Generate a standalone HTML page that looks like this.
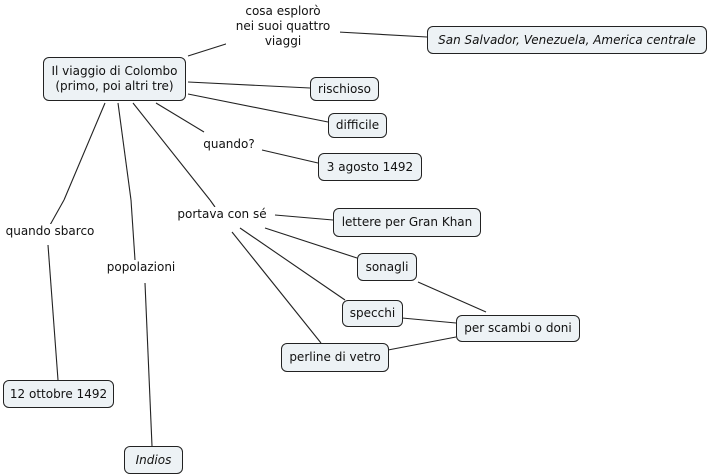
<!DOCTYPE html>
<html><head><meta charset="utf-8"><style>
body{margin:0;width:709px;height:475px;background:#fff;position:relative;font-family:"DejaVu Sans","Liberation Sans",sans-serif;font-size:12px;color:#111;overflow:hidden}
.b{position:absolute;background:#edf2f5;border:1px solid #222;border-radius:6px;box-sizing:border-box;display:flex;align-items:center;justify-content:center;text-align:center;line-height:15px;white-space:nowrap}
.l{position:absolute;text-align:center;line-height:15px;white-space:nowrap;background:#fff}
i{font-style:italic}
svg{position:absolute;left:0;top:0}
</style></head><body>
<svg width="709" height="475" stroke="#222" stroke-width="1.1">
<line x1="188" y1="56" x2="229" y2="43"/>
<line x1="338" y1="32" x2="427" y2="37"/>
<line x1="188" y1="82" x2="310" y2="88"/>
<line x1="188" y1="94" x2="328" y2="122"/>
<line x1="156" y1="103" x2="204" y2="132"/>
<line x1="262" y1="150" x2="318" y2="163"/>
<line x1="133" y1="103" x2="210" y2="200"/>
<line x1="118" y1="103" x2="131" y2="200"/>
<line x1="105" y1="103" x2="64" y2="200"/>
<line x1="64" y1="200" x2="50" y2="225"/>
<line x1="131" y1="200" x2="135" y2="260"/>
<line x1="210" y1="200" x2="215" y2="207"/>
<line x1="48" y1="245" x2="58" y2="380"/>
<line x1="145" y1="283" x2="152" y2="446"/>
<line x1="275" y1="215" x2="333" y2="220"/>
<line x1="265" y1="228" x2="357" y2="258"/>
<line x1="240" y1="228" x2="345" y2="300"/>
<line x1="232" y1="232" x2="321" y2="343"/>
<line x1="418" y1="282" x2="486" y2="312"/>
<line x1="402" y1="318" x2="456" y2="323"/>
<line x1="388" y1="350" x2="456" y2="337"/>
</svg>
<div class="l" style="left:226px;top:4px;width:114px">cosa esplorò<br>nei suoi quattro<br>viaggi</div>
<div class="l" style="left:200px;top:137px;width:58px">quando?</div>
<div class="l" style="left:170px;top:207px;width:104px">portava con sé</div>
<div class="l" style="left:2px;top:224px;width:96px">quando sbarco</div>
<div class="l" style="left:102px;top:260px;width:78px">popolazioni</div>
<div class="b" style="left:43px;top:57px;width:143px;height:44px">Il viaggio di Colombo<br>(primo, poi altri tre)</div>
<div class="b" style="left:310px;top:77px;width:69px;height:24px">rischioso</div>
<div class="b" style="left:328px;top:113px;width:59px;height:25px">difficile</div>
<div class="b" style="left:318px;top:153px;width:104px;height:28px">3 agosto 1492</div>
<div class="b" style="left:427px;top:26px;width:280px;height:28px"><i>San Salvador, Venezuela, America centrale</i></div>
<div class="b" style="left:333px;top:208px;width:148px;height:29px">lettere per Gran Khan</div>
<div class="b" style="left:357px;top:253px;width:60px;height:28px">sonagli</div>
<div class="b" style="left:342px;top:300px;width:61px;height:27px">specchi</div>
<div class="b" style="left:456px;top:315px;width:124px;height:27px">per scambi o doni</div>
<div class="b" style="left:281px;top:343px;width:108px;height:29px">perline di vetro</div>
<div class="b" style="left:3px;top:380px;width:111px;height:28px">12 ottobre 1492</div>
<div class="b" style="left:124px;top:446px;width:59px;height:28px"><i>Indios</i></div>
</body></html>
